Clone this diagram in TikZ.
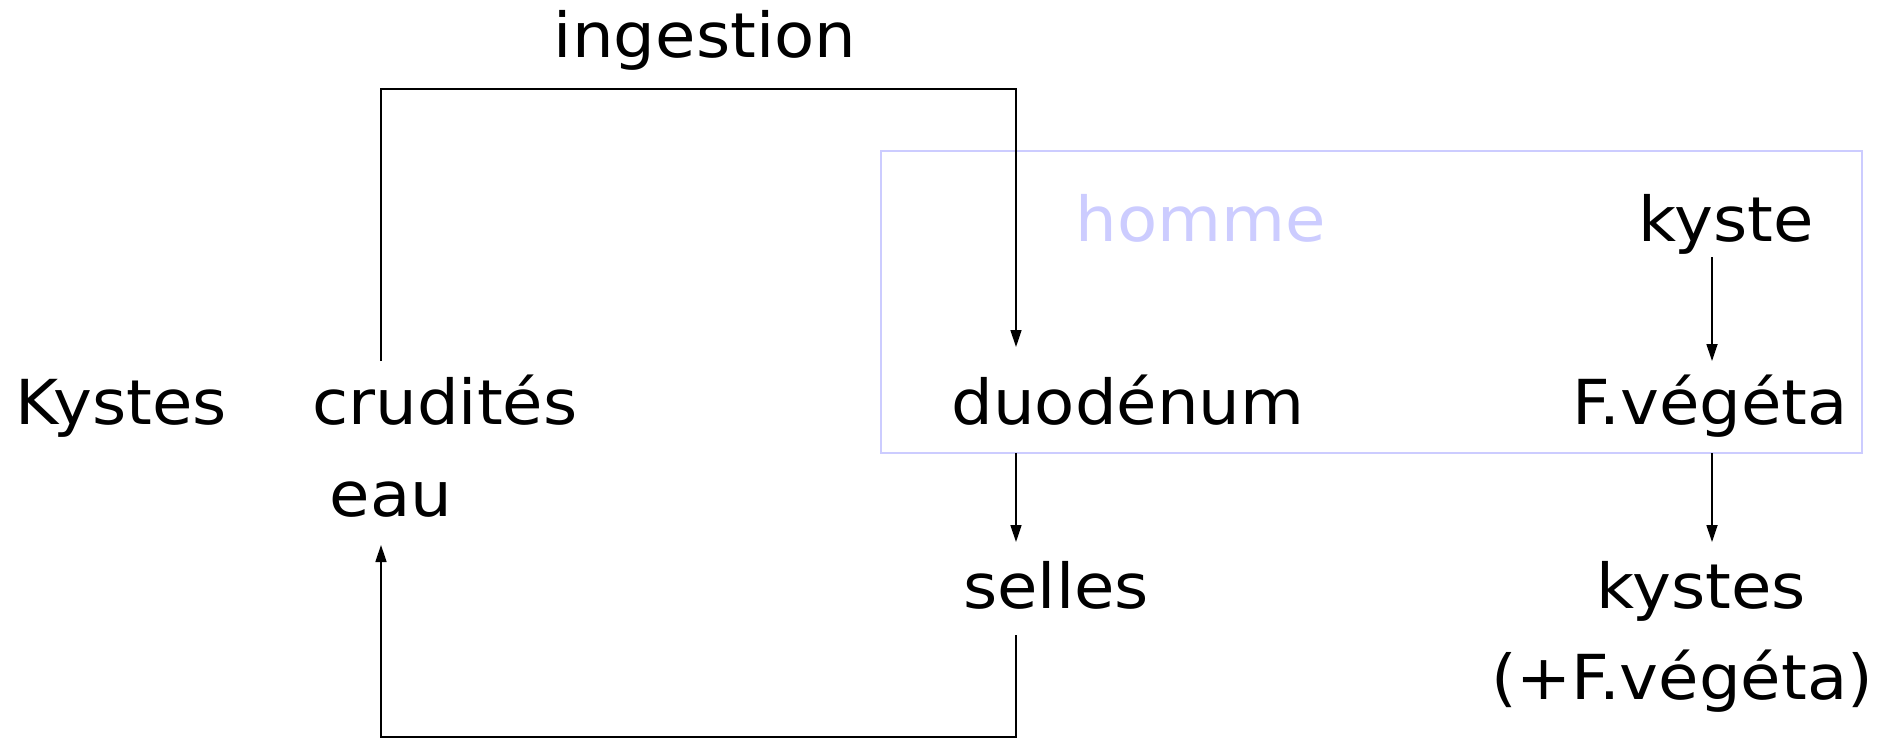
\documentclass[tikz,border=0pt]{standalone}
\usepackage{fontspec}
\setmainfont{DejaVu Sans}[FakeStretch=1.06]
\usetikzlibrary{arrows.meta}
\definecolor{lav}{RGB}{204,204,255}
\tikzset{
  lbl/.style={anchor=base,inner sep=0pt,font=\fontsize{62}{74}\selectfont},
  conn/.style={line width=1.6pt,black},
  arr/.style={conn,-{Triangle[length=17pt,width=11pt]}},
  hbox/.style={draw=lav,line width=1.6pt,inner sep=0pt,minimum width=981pt,minimum height=302pt}
}
\begin{document}
\begin{tikzpicture}[x=1pt,y=-1pt]
\useasboundingbox (0,0) rectangle (1889,740);
% box
\node[hbox] (box) at (1371.5,302) {};
% labels
\node[lbl] (ing) at (705,57) {ingestion};
\node[lbl,text=lav] (homme) at (1201,241) {homme};
\node[lbl] (kyste) at (1726,241) {kyste};
\node[lbl] (Kys) at (121,424) {Kystes};
\node[lbl] (crud) at (445,424) {crudités};
\node[lbl] (duo) at (1128,424) {duodénum};
\node[lbl] (fveg) at (1710,424) {F.végéta};
\node[lbl] (eau) at (391,516) {eau};
\node[lbl] (sel) at (1056,608) {selles};
\node[lbl] (kys2) at (1701,608) {kystes};
\node[lbl] (fveg2) at (1682,699) {(+F.végéta)};
% connector end points
\coordinate (a1) at (381,361);
\coordinate (a2) at (1016,347);
\coordinate (b1) at (1712,257);
\coordinate (b2) at (1712,361);
\coordinate (d1) at (1016,453);
\coordinate (d2) at (1016,542);
\coordinate (f1) at (1712,453);
\coordinate (f2) at (1712,542);
\coordinate (s1) at (1016,635);
\coordinate (e1) at (381,545);
% connectors
\draw[arr] (a1) -- (381,89) -| (a2);
\draw[arr] (b1) -- (b2);
\draw[arr] (d1) -- (d2);
\draw[arr] (f1) -- (f2);
\draw[arr] (s1) -- (1016,737) -| (e1);
\end{tikzpicture}
\end{document}
